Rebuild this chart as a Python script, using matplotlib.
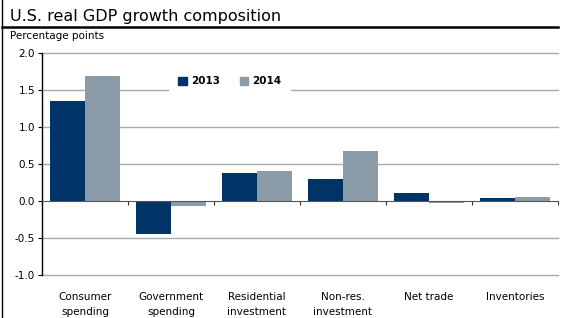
import numpy as np
import matplotlib
matplotlib.use("Agg")
import matplotlib.pyplot as plt
from matplotlib.patches import Patch
from matplotlib.lines import Line2D
import matplotlib.transforms as mtransforms

categories = ["Consumer\nspending", "Government\nspending", "Residential\ninvestment",
              "Non-res.\ninvestment", "Net trade", "Inventories"]
vals_2013 = [1.35, -0.44, 0.38, 0.30, 0.11, 0.035]
vals_2014 = [1.69, -0.07, 0.41, 0.68, -0.03, 0.05]
yticks = [-1.0, -0.5, 0.0, 0.5, 1.0, 1.5, 2.0]

c13 = "#003366"
c14 = "#8c9ba8"

plt.rcParams['font.family'] = ['DejaVu Sans']

fig = plt.figure(figsize=(5.65, 3.18), dpi=100)
ax = fig.add_axes([0.0743, 0.1352, 0.9133, 0.6981])

x = np.arange(len(categories))
w = 0.41
ax.bar(x - w/2, vals_2013, w, color=c13, zorder=3, label="2013")
ax.bar(x + w/2, vals_2014, w, color=c14, zorder=3, label="2014")

ax.set_xlim(-0.5, len(categories) - 0.5)
ax.set_ylim(-1.0, 2.0)
ax.set_yticks(yticks)
ax.set_yticklabels(["%.1f" % v for v in yticks], fontsize=7.5)
for yv in yticks:
    if yv != 0:
        ax.axhline(yv, color="#aaaaaa", lw=1, zorder=1, clip_on=False)

for s in ["top", "right"]:
    ax.spines[s].set_visible(False)
ax.spines["left"].set_color("black")
ax.spines["left"].set_linewidth(1)
ax.spines["left"].set_zorder(4)
ax.spines["bottom"].set_position(("data", 0))
ax.spines["bottom"].set_color("#555555")
ax.spines["bottom"].set_zorder(4)

ax.set_xticks(np.arange(len(categories) + 1) - 0.5)
ax.set_xticklabels([])
ax.tick_params(axis="x", direction="out", length=3, color="#333333")
ax.tick_params(axis="y", direction="out", length=3, color="black", pad=2)

trans = mtransforms.blended_transform_factory(ax.transData, ax.transAxes)
for i, c in enumerate(categories):
    ax.text(i, -0.075, c, transform=trans, ha="center", va="top", fontsize=7.5,
            linespacing=1.7)

handles = [Patch(color=c13, label="2013"), Patch(color=c14, label="2014")]
leg = ax.legend(handles=handles, loc="center", bbox_to_anchor=(0.364, 0.872),
                ncol=2, frameon=True, facecolor="white", edgecolor="none",
                framealpha=1, fontsize=7.5, handlelength=0.8, handleheight=0.8,
                columnspacing=1.9, handletextpad=0.4, borderpad=0.9, borderaxespad=0)
leg.set_zorder(5)
for t in leg.get_texts():
    t.set_fontweight("bold")

fig.text(0.018, 0.934, "U.S. real GDP growth composition", fontsize=11.5,
         ha="left", va="baseline")
fig.text(0.018, 0.877, "Percentage points", fontsize=7.5, ha="left", va="baseline")
fig.add_artist(Line2D([0.004, 0.988], [0.915, 0.915], color="black", lw=1.8,
                      transform=fig.transFigure))
fig.add_artist(Line2D([0.004, 0.004], [0.0, 1.0], color="black", lw=1,
                      transform=fig.transFigure))

fig.savefig("out.png", dpi=100)
